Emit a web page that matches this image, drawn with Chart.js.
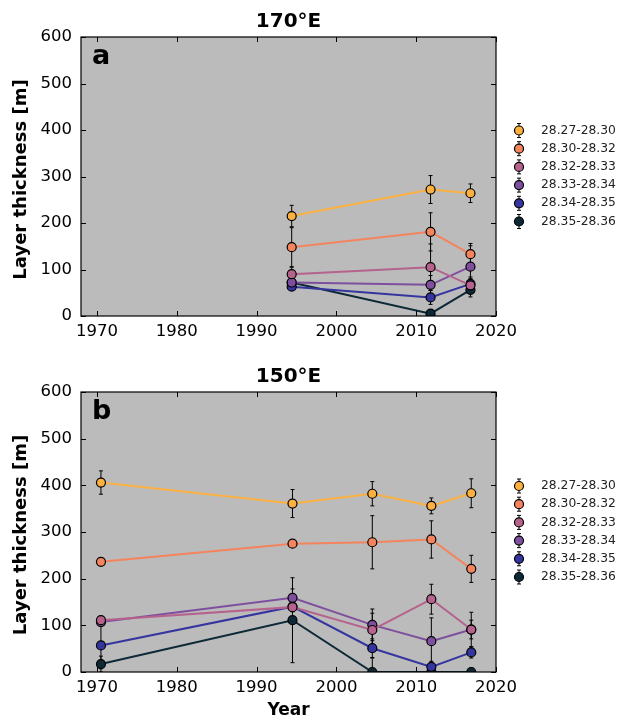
<!DOCTYPE html>
<html>
<head>
<meta charset="utf-8">
<script src="https://cdn.jsdelivr.net/npm/chart.js@4.4.1/dist/chart.umd.min.js"></script>
<style>
  body { margin: 0; background: #fff; }
  canvas { position: absolute; left: 0; }
</style>
</head>
<body>
<canvas id="chartA" width="618" height="360" style="top:0"></canvas>
<canvas id="chartB" width="618" height="360" style="top:360px"></canvas>
<script>
const classes = ["28.27-28.30", "28.30-28.32", "28.32-28.33", "28.33-28.34", "28.34-28.35", "28.35-28.36"];
const colors = ["#fcb040", "#f4845e", "#b5638d", "#7e4f9e", "#3535a0", "#0d2836"];
const xTicks = [1970, 1980, 1990, 2000, 2010, 2020];
const yTicks = [0, 100, 200, 300, 400, 500, 600];

// 170°E
const years170 = [1994.4, 2011.8, 2016.8];
const values170 = [
    [215, 272, 264],
    [148, 181, 133],
    [90, 105, 66],
    [72, 67, 106],
    [63, 40, 69],
    [72, 5, 56]
];
const errors170 = [
    [23, 30, 20],
    [42, 41, 23],
    [15, 50, 15],
    [10, 20, 45],
    [8, 15, 15],
    [8, 8, 15]
];

// 150°E
const years150 = [1970.5, 1994.5, 2004.5, 2011.9, 2016.9];
const values150 = [
    [406, 361, 382, 356, 383],
    [236, 275, 278, 284, 221],
    [111, 139, 90, 156, 91],
    [107, 159, 101, 66, 91],
    [57, 140, 51, 11, 42],
    [17, 111, 0, 0, 0]
];
const errors150 = [
    [25, 30, 26, 17, 31],
    [4, 7, 57, 40, 29],
    [4, 10, 36, 32, 20],
    [5, 19, 34, 50, 37],
    [50, 10, 20, 12, 12],
    [17, 91, 30, 8, 8]
];

const FONT = "'DejaVu Sans', sans-serif";

function buildDatasets(years, values, errors) {
    return values.map((vals, i) => ({
        label: classes[i],
        data: vals.map((v, j) => ({ x: years[j], y: v, err: errors[i][j] })),
        showLine: true,
        borderColor: colors[i],
        borderWidth: 2,
        backgroundColor: colors[i],
        pointBackgroundColor: colors[i],
        pointBorderColor: "#000",
        pointBorderWidth: 1.2,
        pointRadius: 4.5,
        pointHoverRadius: 4.5
    }));
}

const panelPlugin = {
    id: "panel",
    beforeDraw(chart) {
        const { ctx, chartArea: a } = chart;
        ctx.save();
        ctx.fillStyle = "#bbbbbb";
        ctx.fillRect(a.left, a.top, a.right - a.left, a.bottom - a.top);
        ctx.restore();
    },
    beforeDatasetsDraw(chart) {
        // error bars
        const { ctx, chartArea: a, scales } = chart;
        ctx.save();
        ctx.beginPath();
        ctx.rect(a.left, a.top, a.right - a.left, a.bottom - a.top);
        ctx.clip();
        ctx.strokeStyle = "#000";
        ctx.lineWidth = 1;
        chart.data.datasets.forEach(ds => {
            ds.data.forEach(p => {
                const x = scales.x.getPixelForValue(p.x);
                const y1 = scales.y.getPixelForValue(p.y + p.err);
                const y2 = scales.y.getPixelForValue(p.y - p.err);
                ctx.beginPath();
                ctx.moveTo(x, y1); ctx.lineTo(x, y2);
                ctx.moveTo(x - 2, y1); ctx.lineTo(x + 2, y1);
                ctx.moveTo(x - 2, y2); ctx.lineTo(x + 2, y2);
                ctx.stroke();
            });
        });
        ctx.restore();
    },
    afterDraw(chart, args, opts) {
        const { ctx, chartArea: a, scales } = chart;
        ctx.save();
        // box
        ctx.strokeStyle = "#000";
        ctx.lineWidth = 1.2;
        ctx.strokeRect(a.left, a.top, a.right - a.left, a.bottom - a.top);
        // inward ticks on all sides
        ctx.lineWidth = 1;
        xTicks.forEach(v => {
            const x = Math.round(scales.x.getPixelForValue(v)) + 0.5;
            ctx.beginPath();
            ctx.moveTo(x, a.bottom); ctx.lineTo(x, a.bottom - 5);
            ctx.moveTo(x, a.top); ctx.lineTo(x, a.top + 5);
            ctx.stroke();
        });
        yTicks.forEach(v => {
            const y = Math.round(scales.y.getPixelForValue(v)) + 0.5;
            ctx.beginPath();
            ctx.moveTo(a.left, y); ctx.lineTo(a.left + 5, y);
            ctx.moveTo(a.right, y); ctx.lineTo(a.right - 5, y);
            ctx.stroke();
        });
        // title
        ctx.fillStyle = "#000";
        ctx.textAlign = "center";
        ctx.textBaseline = "alphabetic";
        ctx.font = "bold 20px " + FONT;
        ctx.fillText(opts.title, (a.left + a.right) / 2, a.top - 10);
        // panel letter
        ctx.textAlign = "left";
        ctx.font = "bold 27px " + FONT;
        ctx.fillText(opts.letter, a.left + 11, a.top + 27);
        // y title
        ctx.save();
        ctx.translate(21.5, (a.top + a.bottom) / 2 + 3);
        ctx.rotate(-Math.PI / 2);
        ctx.textAlign = "center";
        ctx.textBaseline = "middle";
        ctx.font = "bold 18px " + FONT;
        ctx.fillText("Layer thickness [m]", 0, 0);
        ctx.restore();
        // x title
        if (opts.xTitle) {
            ctx.textAlign = "center";
            ctx.textBaseline = "middle";
            ctx.font = "bold 17px " + FONT;
            ctx.fillText("Year", (a.left + a.right) / 2, 351);
        }
        // legend
        const top = (a.top + a.bottom) / 2 - 46;
        ctx.textAlign = "left";
        ctx.textBaseline = "middle";
        ctx.font = "12.3px " + FONT;
        classes.forEach((c, i) => {
            const y = top + i * 18.2;
            const x = 519;
            ctx.strokeStyle = "#000";
            ctx.lineWidth = 1;
            ctx.beginPath();
            ctx.moveTo(x, y - 7); ctx.lineTo(x, y + 7);
            ctx.moveTo(x - 2, y - 7); ctx.lineTo(x + 2, y - 7);
            ctx.moveTo(x - 2, y + 7); ctx.lineTo(x + 2, y + 7);
            ctx.stroke();
            ctx.beginPath();
            ctx.arc(x, y, 4.5, 0, Math.PI * 2);
            ctx.fillStyle = colors[i];
            ctx.fill();
            ctx.lineWidth = 1.2;
            ctx.stroke();
            ctx.fillStyle = "#222";
            ctx.fillText(c, 541, y);
        });
        ctx.restore();
    }
};

function makeChart(id, years, values, errors, opts, top, xHeight) {
    return new Chart(document.getElementById(id), {
        type: "scatter",
        data: { datasets: buildDatasets(years, values, errors) },
        options: {
            responsive: false,
            animation: false,
            devicePixelRatio: 1,
            layout: { padding: { top: top, right: 122, left: 0, bottom: 0 } },
            plugins: {
                legend: { display: false },
                tooltip: { enabled: false },
                panel: opts
            },
            scales: {
                x: {
                    type: "linear",
                    min: 1968,
                    max: 2020,
                    afterBuildTicks: s => { s.ticks = xTicks.map(v => ({ value: v })); },
                    afterFit: s => { s.height = xHeight; },
                    grid: { display: false, drawTicks: false },
                    border: { display: false },
                    ticks: { color: "#000", padding: 6, font: { family: FONT, size: 16.5 }, callback: v => String(v) }
                },
                y: {
                    min: 0,
                    max: 600,
                    afterBuildTicks: s => { s.ticks = yTicks.map(v => ({ value: v })); },
                    afterFit: s => { s.width = 81; },
                    grid: { display: false, drawTicks: false },
                    border: { display: false },
                    ticks: { color: "#000", padding: 9, font: { family: FONT, size: 16.5 } }
                }
            }
        },
        plugins: [panelPlugin]
    });
}

makeChart("chartA", years170, values170, errors170, { title: "170°E", letter: "a", xTitle: false }, 37, 44);
makeChart("chartB", years150, values150, errors150, { title: "150°E", letter: "b", xTitle: true }, 32, 48);
</script>
</body>
</html>
